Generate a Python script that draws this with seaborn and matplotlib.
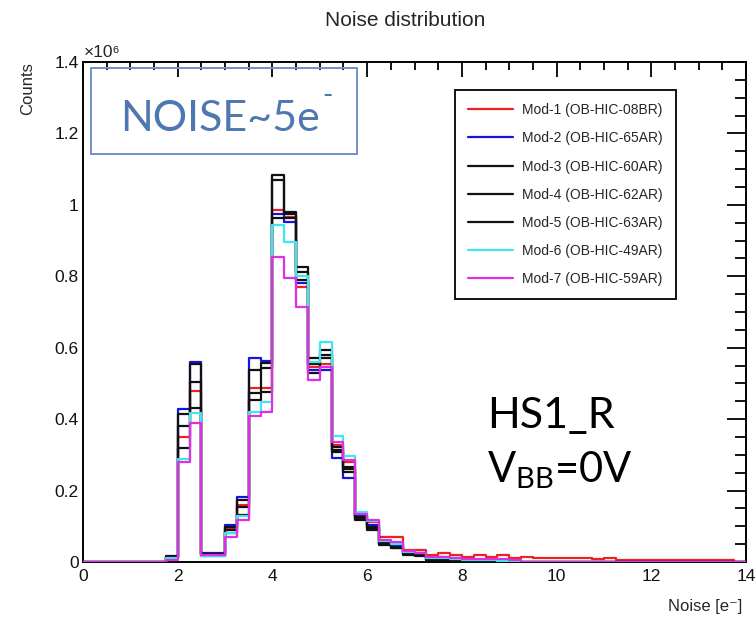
import numpy as np
import pandas as pd
import matplotlib
matplotlib.use("Agg")
import matplotlib.pyplot as plt
import seaborn as sns
from matplotlib.ticker import MultipleLocator, FuncFormatter
from matplotlib.patches import Rectangle

# 56 bins of 0.25 e- covering 0..14 e-
bin_width = 0.25
x_range = (0.0, 14.0)
first_filled_bin = 1.75  # lower edge of the first bin listed below

# Counts per bin (thousands), starting from the 1.75 e- bin
mod1 = [15, 350, 480, 20, 20, 95, 160, 487, 487, 985, 965, 770, 545, 555, 327, 280,
        127, 113, 71, 70, 34, 34, 20, 26, 20, 15, 20, 15, 20, 12, 15, 12, 12, 10,
        10, 12, 8, 10, 6, 5, 5, 5, 5, 5, 5, 5, 5, 5, 0]
mod2 = [15, 428, 560, 25, 25, 103, 183, 570, 563, 975, 952, 780, 537, 537, 290, 235,
        130, 105, 58, 48, 28, 25, 12, 15, 10, 8, 6, 5, 5, 4]
mod3 = [18, 415, 555, 22, 22, 99, 173, 537, 556, 1083, 980, 826, 570, 593, 322, 267,
        127, 99, 53, 43, 25, 21, 8, 8, 5, 4, 3, 3, 2, 2]
mod4 = [14, 380, 505, 20, 20, 90, 155, 472, 542, 1070, 975, 812, 555, 580, 315, 260,
        120, 95, 50, 40, 22, 19, 7, 7, 4, 3, 2, 2, 1, 1]
mod5 = [12, 320, 430, 18, 18, 80, 131, 453, 476, 962, 962, 790, 530, 570, 309, 253,
        117, 90, 48, 38, 20, 17, 6, 6, 3, 2, 2, 1, 1, 1]
mod6 = [10, 288, 418, 18, 18, 80, 130, 420, 448, 943, 896, 800, 560, 616, 352, 296,
        141, 115, 60, 50, 28, 25, 12, 12, 8, 6, 5, 5, 4, 3]
mod7 = [5, 280, 389, 20, 20, 71, 117, 410, 420, 854, 794, 714, 509, 546, 335, 285,
        135, 118, 62, 55, 30, 25, 13, 13, 10, 8, 8, 8, 8, 6]

module_labels = ["Mod-1 (OB-HIC-08BR)", "Mod-2 (OB-HIC-65AR)", "Mod-3 (OB-HIC-60AR)",
                 "Mod-4 (OB-HIC-62AR)", "Mod-5 (OB-HIC-63AR)", "Mod-6 (OB-HIC-49AR)",
                 "Mod-7 (OB-HIC-59AR)"]
module_counts = [mod1, mod2, mod3, mod4, mod5, mod6, mod7]
module_colors = ["#ee2222", "#1414dc", "#111111", "#111111", "#111111", "#3fe6ee", "#e02ee6"]

edges = np.arange(x_range[0], x_range[1] + bin_width / 2, bin_width)
centers = edges[:-1] + bin_width / 2
n_bins = len(centers)
offset = int(round((first_filled_bin - x_range[0]) / bin_width))

frames = []
for label, counts in zip(module_labels, module_counts):
    full = np.zeros(n_bins)
    full[offset:offset + len(counts)] = np.asarray(counts, dtype=float) * 1e3
    frames.append(pd.DataFrame({"noise": centers, "counts": full, "module": label}))
data = pd.concat(frames, ignore_index=True)

sns.set_theme(style="white")
plt.rcParams["font.family"] = ["Liberation Sans", "DejaVu Sans"]
plt.rcParams["mathtext.fontset"] = "custom"
plt.rcParams["mathtext.rm"] = "Lato"
plt.rcParams["mathtext.it"] = "Lato"
plt.rcParams["mathtext.bf"] = "Lato"

W, H = 756, 617
fig = plt.figure(figsize=(W / 100, H / 100), dpi=100)
ax_left, ax_right, ax_top, ax_bottom = 83, 746, 62, 562
ax = fig.add_axes([ax_left / W, (H - ax_bottom) / H,
                   (ax_right - ax_left) / W, (ax_bottom - ax_top) / H])

for i, (label, color) in enumerate(zip(module_labels, module_colors)):
    sns.histplot(data=data[data["module"] == label], x="noise", weights="counts",
                 binwidth=bin_width, binrange=x_range, element="step", fill=False,
                 color=color, linewidth=1.6, label=label, ax=ax, zorder=2 + i)

ax.set_xlim(*x_range)
ax.set_ylim(0, 1.4e6)
ax.set_xlabel("")
ax.set_ylabel("")

ax.xaxis.set_major_locator(MultipleLocator(2))
ax.xaxis.set_minor_locator(MultipleLocator(0.5))
ax.yaxis.set_major_locator(MultipleLocator(0.2e6))
ax.yaxis.set_minor_locator(MultipleLocator(0.05e6))
ax.yaxis.set_major_formatter(FuncFormatter(lambda v, p: f"{v / 1e6:.1f}".rstrip("0").rstrip(".") if v else "0"))
ax.xaxis.set_major_formatter(FuncFormatter(lambda v, p: f"{v:g}"))

ax.tick_params(axis="both", which="both", direction="in", top=True, right=True,
               color="black", width=1.3, labelsize=12.5, labelcolor="#111111")
ax.tick_params(axis="y", which="major", length=14, pad=3)
ax.tick_params(axis="y", which="minor", length=8)
ax.tick_params(axis="x", which="major", length=11, pad=5)
ax.tick_params(axis="x", which="minor", length=6)
for spine in ax.spines.values():
    spine.set_visible(True)
    spine.set_color("black")
    spine.set_linewidth(1.4)

leg = ax.legend(loc="upper left", bbox_to_anchor=((455 - ax_left) / (ax_right - ax_left),
                                                  (ax_bottom - 90) / (ax_bottom - ax_top)),
                frameon=True, fancybox=False, framealpha=1, edgecolor="black",
                fontsize=10, handlelength=3.2, labelspacing=1.02, borderpad=0.95,
                handletextpad=0.7, borderaxespad=0)
leg.get_frame().set_linewidth(1.3)
for line in leg.get_lines():
    line.set_linewidth(1.6)

# Titles and axis captions
fig.text(405 / W, 1 - 20 / H, "Noise distribution", ha="center", va="center", fontsize=15)
fig.text(28 / W, 1 - 62 / H, "Counts", rotation=90, ha="center", va="top", fontsize=12)
fig.text(84 / W, 1 - 57 / H, "×10⁶", ha="left", va="baseline", fontsize=12.5)
fig.text(742 / W, 1 - 611 / H, "Noise [e⁻]", ha="right", va="baseline", fontsize=12)

# Annotation box and run conditions
box = Rectangle(((91 - ax_left) / (ax_right - ax_left), (ax_bottom - 154) / (ax_bottom - ax_top)),
                (357 - 91) / (ax_right - ax_left), (154 - 68) / (ax_bottom - ax_top),
                transform=ax.transAxes, fill=False, edgecolor="#6f93c8", linewidth=1.4, zorder=20)
ax.add_patch(box)
fig.text(120 / W, 1 - 131 / H, "NOISE~5e", ha="left", va="baseline",
         fontsize=31, color="#4f77b0", family="Lato")
fig.text(322 / W, 1 - 104 / H, "-", ha="left", va="baseline",
         fontsize=20, color="#4f77b0", family="Lato")
fig.text(487 / W, 1 - 428 / H, "HS1_R", ha="left", va="baseline", fontsize=31,
         color="black", family="Lato")
fig.text(487 / W, 1 - 482 / H, r"V$_{\mathrm{BB}}$=0V", ha="left", va="baseline",
         fontsize=30, color="black", family="Lato")

fig.savefig("out.png", dpi=100, facecolor="white")
